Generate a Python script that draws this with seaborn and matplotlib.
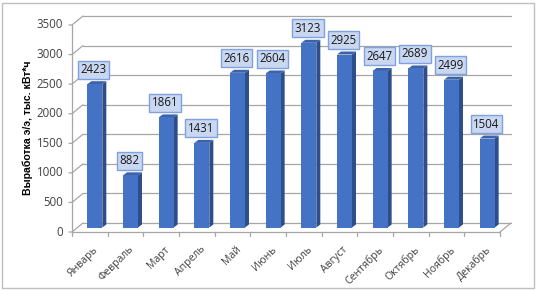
import pandas as pd
import seaborn as sns
import matplotlib.pyplot as plt
from matplotlib.transforms import ScaledTranslation, IdentityTransform
from matplotlib.patches import Polygon, Rectangle
from matplotlib.lines import Line2D

# data
months = ["Январь", "Февраль", "Март", "Апрель", "Май", "Июнь",
          "Июль", "Август", "Сентябрь", "Октябрь", "Ноябрь", "Декабрь"]
output = [2423, 882, 1861, 1431, 2616, 2604, 3123, 2925, 2647, 2689, 2499, 1504]
y_ticks = [0, 500, 1000, 1500, 2000, 2500, 3000, 3500]
y_title = "Выработка э/э, тыс. кВт*ч"

df = pd.DataFrame({"month": months, "output": output})

sns.set_style("white")
plt.rcParams["font.family"] = ["Open Sans", "DejaVu Sans"]

W, H = 536, 290
fig = plt.figure(figsize=(W / 100, H / 100), dpi=100)
# axes = middle depth plane of the pseudo-3D chart
ax = fig.add_axes([77 / W, 62.5 / H, 428 / W, 207 / H])
ax.patch.set_alpha(0)

sns.barplot(data=df, x="month", y="output", color="#4472C4", saturation=1,
            width=0.42, edgecolor="none", ax=ax, zorder=3)
ax.set_xlim(-0.5, len(months) - 0.5)
ax.set_ylim(y_ticks[0], y_ticks[-1])
ax.set_xlabel("")
ax.set_ylabel("")
ax.set_xticks([])
ax.set_yticks([])
sns.despine(ax=ax, left=True, bottom=True)


def shift(dx, dy):
    # pixel offset of data coords (dy positive = down)
    return ax.transData + ScaledTranslation(dx / 100, -dy / 100, fig.dpi_scale_trans)


front = shift(-5, 4.5)
back = shift(6, -4.5)
grid_col = "#A6A6A6"
x0, x1 = ax.get_xlim()

# back wall gridlines + left wall diagonals + front ticks
for v in y_ticks:
    ax.plot([x0, x1], [v, v], transform=back, color=grid_col, lw=0.9,
            clip_on=False, zorder=0)
    pf = front.transform((x0, v))
    pb = back.transform((x0, v))
    ax.add_line(Line2D([pf[0] - 3, pf[0], pb[0]], [pf[1], pf[1], pb[1]],
                       transform=IdentityTransform(), color=grid_col, lw=0.9,
                       clip_on=False, zorder=0))
    ax.text(pf[0] - 9, pf[1], str(v), transform=IdentityTransform(),
            ha="right", va="center", fontsize=8.3, color="#404040")

# front axis line and floor
ax.plot([x0, x0], [y_ticks[0], y_ticks[-1]], transform=front, color=grid_col,
        lw=0.9, clip_on=False, zorder=1)
ax.plot([x0, x1], [0, 0], transform=front, color=grid_col, lw=0.9,
        clip_on=False, zorder=1)
pf = front.transform((x1, 0))
pb = back.transform((x1, 0))
ax.add_line(Line2D([pf[0], pb[0]], [pf[1], pb[1]], transform=IdentityTransform(),
                   color=grid_col, lw=0.9, clip_on=False, zorder=1))
for i in range(len(months) + 1):
    p = front.transform((i - 0.5, 0))
    ax.add_line(Line2D([p[0], p[0]], [p[1], p[1] - 4], transform=IdentityTransform(),
                       color=grid_col, lw=0.9, clip_on=False, zorder=1))

# month labels
for i, m in enumerate(months):
    p = front.transform((i, 0))
    ax.text(p[0] + 3, p[1] - 12, m, transform=IdentityTransform(), rotation=45,
            rotation_mode="anchor", ha="right", va="top", fontsize=7.6,
            color="#404040")

# 3D sides and tops of the bars
ddx, ddy = 4, 3
for bar in ax.patches:
    bb = bar.get_window_extent()
    bx0, by0, bx1, by1 = bb.x0, bb.y0, bb.x1, bb.y1
    side = Polygon([(bx1, by0), (bx1, by1), (bx1 + ddx, by1 + ddy), (bx1 + ddx, by0 + ddy)],
                   closed=True, transform=IdentityTransform(), fc="#2D4E8A",
                   ec="none", zorder=2, clip_on=False)
    top = Polygon([(bx0, by1), (bx1, by1), (bx1 + ddx, by1 + ddy), (bx0 + ddx, by1 + ddy)],
                  closed=True, transform=IdentityTransform(), fc="#3C62AA",
                  ec="none", zorder=2, clip_on=False)
    ax.add_patch(side)
    ax.add_patch(top)

# value labels
for i, v in enumerate(output):
    ax.annotate(str(v), xy=(i, v), xytext=(-1, 8), textcoords="offset pixels",
                ha="center", va="bottom", fontsize=8.3, color="#1a1a1a", zorder=5,
                bbox=dict(boxstyle="square,pad=0.22", fc="#C9D7F1", ec="#7FA2DE", lw=1))

fig.text(28 / W, 1 - 128 / H, y_title, rotation=90, ha="center", va="center",
         fontsize=7.6, fontweight="bold", color="#000000",
         family=["Liberation Sans", "DejaVu Sans"])

fig.add_artist(Rectangle((1.5 / W, 2.5 / H), (W - 4) / W, (H - 5) / H,
                         transform=fig.transFigure, fill=False, ec="#BFBFBF", lw=1))

plt.savefig("out.png", dpi=100)
